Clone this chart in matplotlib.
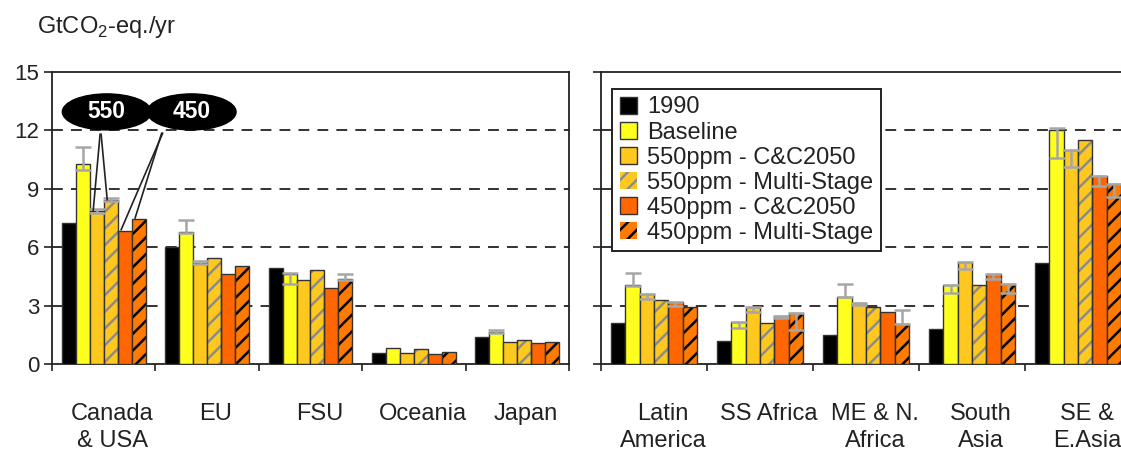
import numpy as np
import matplotlib
matplotlib.use("Agg")
import matplotlib.pyplot as plt
from matplotlib.patches import Ellipse, Patch

plt.rcParams['font.family'] = ['Liberation Sans', 'DejaVu Sans']
plt.rcParams['mathtext.fontset'] = 'custom'
plt.rcParams['mathtext.rm'] = 'Liberation Sans'
plt.rcParams['hatch.linewidth'] = 1.8

nan = np.nan

# ---------------- data ----------------
regions_left = ['Canada\n& USA', 'EU', 'FSU', 'Oceania', 'Japan']
regions_right = ['Latin\nAmerica', 'SS Africa', 'ME & N.\nAfrica', 'South\nAsia', 'SE &\nE.Asia']

series_names = ['1990', 'Baseline', '550ppm - C&C2050', '550ppm - Multi-Stage',
                '450ppm - C&C2050', '450ppm - Multi-Stage']

v1990_L = [7.25, 6.0, 4.95, 0.55, 1.4]
base_L = [10.25, 6.8, 4.6, 0.82, 1.62]
c550_L = [7.85, 5.2, 4.3, 0.58, 1.13]
ms550_L = [8.4, 5.42, 4.85, 0.75, 1.22]
c450_L = [6.85, 4.62, 3.9, 0.52, 1.08]
ms450_L = [7.45, 5.05, 4.35, 0.62, 1.15]

v1990_R = [2.1, 1.2, 1.48, 1.8, 5.2]
base_R = [4.05, 2.15, 3.45, 4.05, 12.0]
c550_R = [3.6, 2.92, 3.12, 5.23, 10.97]
ms550_R = [3.28, 2.1, 2.95, 4.05, 11.5]
c450_R = [3.2, 2.46, 2.68, 4.6, 9.65]
ms450_R = [2.95, 2.62, 2.05, 4.1, 9.25]

# uncertainty ranges (low, high)
base_lo_L = [9.95, 6.75, 4.1, nan, 1.6]
base_hi_L = [11.15, 7.4, 4.65, nan, 1.75]
c550_lo_L = [7.75, 5.15, nan, nan, nan]
c550_hi_L = [7.95, 5.28, nan, nan, nan]
ms550_lo_L = [8.35, nan, nan, nan, nan]
ms550_hi_L = [8.55, nan, nan, nan, nan]
c450_lo_L = [nan] * 5
c450_hi_L = [nan] * 5
ms450_lo_L = [nan, nan, 4.3, nan, nan]
ms450_hi_L = [nan, nan, 4.62, nan, nan]

base_lo_R = [4.0, 1.85, 3.45, 3.64, 10.56]
base_hi_R = [4.65, 2.15, 4.1, 4.05, 12.1]
c550_lo_R = [3.35, 2.68, 3.05, 4.87, 10.1]
c550_hi_R = [3.6, 2.92, 3.15, 5.23, 10.97]
ms550_lo_R = [nan] * 5
ms550_hi_R = [nan] * 5
c450_lo_R = [2.98, 2.35, nan, 4.36, 9.13]
c450_hi_R = [3.2, 2.46, nan, 4.6, 9.64]
ms450_lo_R = [nan, 1.74, 2.05, 3.64, 8.56]
ms450_hi_R = [nan, 2.62, 2.77, 4.1, 9.23]

yticks = [0, 3, 6, 9, 12, 15]

# ---------------- styles ----------------
styles = [
    dict(fc='#000000', hatch=None, hc=None),
    dict(fc='#FFFF1E', hatch=None, hc=None),
    dict(fc='#FFC81E', hatch=None, hc=None),
    dict(fc='#FFC81E', hatch='//', hc='#8C8C8C'),
    dict(fc='#FF6600', hatch=None, hc=None),
    dict(fc='#FF7A00', hatch='//', hc='#000000'),
]
EDGE = '#333333'
ERRC = '#A6A6A6'

W, H = 1121, 453
fig = plt.figure(figsize=(W / 100, H / 100), dpi=100)

axL = fig.add_axes([52 / W, (H - 364) / H, (569 - 52) / W, (364 - 72) / H])
axR = fig.add_axes([601 / W, (H - 364) / H, 530 / W, (364 - 72) / H])

bw = 0.135
offsets = 0.5 + (np.arange(6) - 2.5) * bw


def draw_panel(ax, labels, vals, los, his):
    x = np.arange(len(labels))
    for k, (v, st) in enumerate(zip(vals, styles)):
        xs = x + offsets[k]
        if st['hatch']:
            ax.bar(xs, v, bw, color=st['fc'], hatch=st['hatch'],
                   edgecolor=st['hc'], linewidth=0, zorder=3)
            ax.bar(xs, v, bw, fill=False, edgecolor=EDGE, linewidth=1.0, zorder=4)
        else:
            ax.bar(xs, v, bw, color=st['fc'], edgecolor=EDGE, linewidth=1.0, zorder=3)
        lo = np.array(los[k], dtype=float)
        hi = np.array(his[k], dtype=float)
        m = ~np.isnan(lo)
        if m.any():
            ax.errorbar(xs[m], (lo[m] + hi[m]) / 2, yerr=(hi[m] - lo[m]) / 2,
                        fmt='none', ecolor=ERRC, elinewidth=1.8, capsize=6,
                        capthick=1.8, zorder=5)
    ax.set_xlim(0, len(labels))
    ax.set_ylim(0, 15)
    ax.set_yticks(yticks)
    for g in [3, 6, 9, 12]:
        ax.axhline(g, color='#222222', lw=1.3, ls=(0, (6, 4.5)), zorder=1)
    ax.set_xticks(np.arange(len(labels) + 1))
    ax.set_xticklabels([])
    ax.set_xticks(x + 0.5 + 0.085, labels, minor=True)
    ax.tick_params(axis='x', which='major', direction='out', length=5, width=1.2, color='#222222')
    ax.tick_params(axis='x', which='minor', length=0, pad=28, labelsize=17, labelcolor='#222222')
    for t in ax.get_xticklabels(minor=True):
        t.set_linespacing(1.28)
    ax.tick_params(axis='y', direction='out', length=6, width=1.2, color='#222222',
                   labelsize=16, labelcolor='#222222', pad=3)
    for s in ax.spines.values():
        s.set_color('#222222')
        s.set_linewidth(1.3)


draw_panel(axL, regions_left,
           [v1990_L, base_L, c550_L, ms550_L, c450_L, ms450_L],
           [[nan] * 5, base_lo_L, c550_lo_L, ms550_lo_L, c450_lo_L, ms450_lo_L],
           [[nan] * 5, base_hi_L, c550_hi_L, ms550_hi_L, c450_hi_L, ms450_hi_L])
draw_panel(axR, regions_right,
           [v1990_R, base_R, c550_R, ms550_R, c450_R, ms450_R],
           [[nan] * 5, base_lo_R, c550_lo_R, ms550_lo_R, c450_lo_R, ms450_lo_R],
           [[nan] * 5, base_hi_R, c550_hi_R, ms550_hi_R, c450_hi_R, ms450_hi_R])
axR.set_yticklabels([])

# legend
handles = []
for st, name in zip(styles, series_names):
    if st['hatch']:
        handles.append(Patch(facecolor=st['fc'], hatch=st['hatch'], edgecolor=st['hc'], linewidth=0))
    else:
        handles.append(Patch(facecolor=st['fc'], edgecolor=EDGE, linewidth=1.0))
leg = axR.legend(handles, series_names, loc='upper left', bbox_to_anchor=(0.021, 0.942),
                 borderaxespad=0, fancybox=False, framealpha=1, edgecolor='#222222',
                 fontsize=17, handlelength=0.72, handleheight=0.72, handletextpad=0.45,
                 labelspacing=0.13, borderpad=0.32, labelcolor='#222222')
leg.get_frame().set_linewidth(1.4)
leg.set_zorder(10)

# annotation ellipses (550 / 450)
for cx, txt in [(0.53, '550'), (1.35, '450')]:
    e = Ellipse((cx, 12.95), 0.86, 1.85, facecolor='black', edgecolor='black', zorder=8,
                clip_on=False)
    axL.add_patch(e)
    axL.text(cx, 12.95, txt, color='white', fontsize=16.5, fontweight='bold',
             ha='center', va='center', zorder=9)
# pointer lines to the Canada & USA bars
all_L = [v1990_L, base_L, c550_L, ms550_L, c450_L, ms450_L]
for src, k in [((0.465, 11.8), 2), ((0.475, 11.8), 3), ((1.07, 11.85), 4), ((1.06, 11.85), 5)]:
    xe = offsets[k] - bw * 0.25
    axL.plot([src[0], xe], [src[1], all_L[k][0] + 0.05], color='#222222', lw=1.2, zorder=7)

fig.text(37 / W, 1 - 33 / H, 'GtCO$_2$-eq./yr', fontsize=17, color='#222222', ha='left', va='baseline')

fig.savefig('out.png', dpi=100)
